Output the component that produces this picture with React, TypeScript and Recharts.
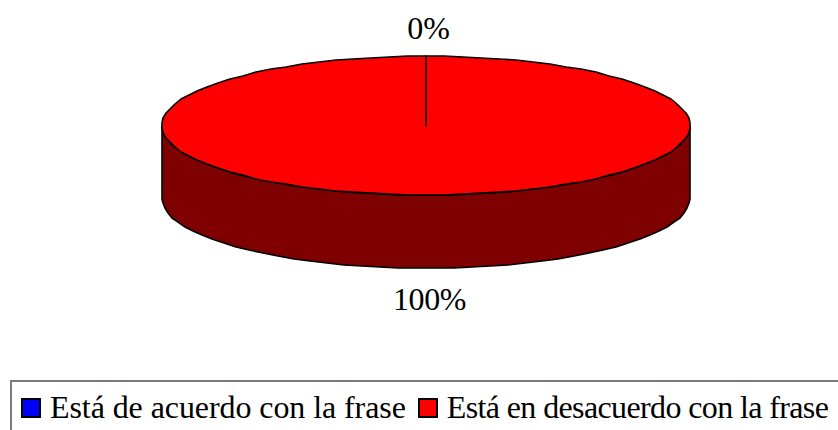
import React from "react";
import { PieChart, Pie, Legend } from "recharts";

const categories = ["Está de acuerdo con la frase", "Está en desacuerdo con la frase"];
const values = [0, 100];
const sliceColors = ["#0000ff", "#ff0000"];
const wallColors: Record<string, string> = { "#0000ff": "#00007f", "#ff0000": "#7f0000" };
const legendSpacing = [-0.08, -0.62];

const pieData = categories.map((name, i) => ({ name, value: values[i], fill: sliceColors[i] }));

const FONT = '"Liberation Serif", serif';
const TILT = 69.5 / 264; // flattening of the disc
const DEPTH = 73;
const STEP = 4; // the original outline is a coarse polygon

const toPoint = (cx: number, cy: number, r: number, angle: number, dy = 0) => {
  const rad = (angle * Math.PI) / 180;
  return `${Math.round(cx + r * Math.cos(rad))},${Math.round(cy - r * TILT * Math.sin(rad)) + dy}`;
};

// points along the arc, going clockwise from "from" down to "to"
const arcAngles = (from: number, to: number) => {
  const out = [from];
  for (let a = from - STEP; a > to; a -= STEP) out.push(a);
  if (to !== from) out.push(to);
  return out;
};

const DiscSlice = (props: any) => {
  const { cx, cy, outerRadius: r, startAngle, endAngle, fill } = props;
  const hi = Math.min(startAngle, 0);
  const lo = Math.max(endAngle, -180);
  const top = arcAngles(startAngle, endAngle).map((a) => toPoint(cx, cy, r, a));
  const wallAngles = hi > lo ? arcAngles(hi, lo) : [];
  const wall = [
    ...wallAngles.map((a) => toPoint(cx, cy, r, a)),
    ...[...wallAngles].reverse().map((a) => toPoint(cx, cy, r, a, DEPTH)),
  ];
  return (
    <g>
      {wall.length > 0 && (
        <polygon points={wall.join(" ")} fill={wallColors[fill]} stroke="#000" strokeWidth={1.6} strokeLinejoin="round" />
      )}
      <polygon
        points={[`${cx},${Math.round(cy)}`, ...top].join(" ")}
        fill={fill}
        stroke="#000"
        strokeWidth={1.6}
        strokeLinejoin="round"
      />
    </g>
  );
};

const percentLabel = (props: any) => {
  const { cx, cy, outerRadius: r, midAngle, percent } = props;
  const above = midAngle > 0;
  const rad = (midAngle * Math.PI) / 180;
  const x = cx + r * Math.cos(rad) + (above ? 2.5 : 3.5);
  const y = cy - r * TILT * Math.sin(rad) + (above ? -17 : DEPTH + 42);
  return (
    <text x={x} y={y} textAnchor="middle" fontFamily={FONT} fontSize={32} letterSpacing={above ? 0 : -0.4} fill="#000">
      {`${Math.round(percent * 100)}%`}
    </text>
  );
};

const LegendBox = ({ payload }: any) => (
  <div
    style={{
      boxSizing: "border-box",
      width: 900,
      height: 80,
      borderTop: "2px solid #7a7a7a",
      borderLeft: "2px solid #7a7a7a",
      fontFamily: FONT,
      fontSize: 32,
      lineHeight: "32px",
      color: "#000",
      display: "flex",
      alignItems: "flex-start",
      paddingTop: 9,
      paddingLeft: 9,
      whiteSpace: "nowrap",
    }}
  >
    {(payload || []).map((entry: any, i: number) => (
      <span
        key={entry.value}
        style={{ display: "inline-flex", alignItems: "center", marginRight: 12, letterSpacing: legendSpacing[i] }}
      >
        <span
          style={{
            boxSizing: "border-box",
            display: "inline-block",
            width: 20,
            height: 20,
            marginTop: 2,
            background: entry.color,
            border: "2px solid #000",
            marginRight: 9,
          }}
        />
        {entry.value}
      </span>
    ))}
  </div>
);

export default function App() {
  return (
    <div style={{ position: "absolute", left: 0, top: 0, width: 838, height: 430, overflow: "hidden", background: "#fff" }}>
      <PieChart width={838} height={430} margin={{ top: 0, right: 0, bottom: 0, left: 0 }}>
        <Pie
          data={pieData}
          dataKey="value"
          nameKey="name"
          cx={426}
          cy={125.5}
          innerRadius={0}
          outerRadius={264}
          startAngle={90}
          endAngle={-270}
          paddingAngle={0}
          stroke="none"
          shape={DiscSlice}
          label={percentLabel}
          labelLine={false}
          isAnimationActive={false}
        />
        <Legend content={LegendBox} wrapperStyle={{ left: 10, top: 380, bottom: "auto", width: 900, height: 80 }} />
      </PieChart>
    </div>
  );
}
